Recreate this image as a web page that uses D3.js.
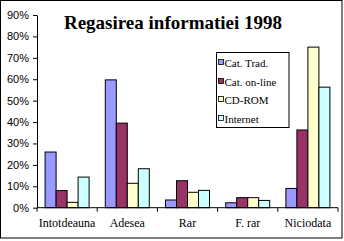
<!DOCTYPE html>
<html><head><meta charset="utf-8">
<script src="https://cdn.jsdelivr.net/npm/d3@7"></script>
<style>body{margin:0;background:#fff}svg{display:block}</style>
</head><body>
<script>
const categories = ["Intotdeauna", "Adesea", "Rar", "F. rar", "Niciodata"];
const seriesNames = ["Cat. Trad.", "Cat. on-line", "CD-ROM", "Internet"];
const catTrad = [26, 59.7, 3.6, 2.3, 9];
const catOnline = [8, 39.5, 12.6, 4.7, 36.3];
const cdRom = [2.5, 11.4, 7.2, 4.7, 75];
const internet = [14.3, 18.2, 8.1, 3.4, 56.3];
const yTicks = [0, 10, 20, 30, 40, 50, 60, 70, 80, 90];
const colors = ["#9999FF", "#993366", "#FFFFCC", "#CCFFFF"];
const title = "Regasirea informatiei 1998";

const SERIF = '"Liberation Serif", serif';
const SANS = '"Liberation Sans", sans-serif';
const seriesValues = [catTrad, catOnline, cdRom, internet];
const W = 344, H = 241;
const svg = d3.select("body").append("svg").attr("width", W).attr("height", H);

// chart frame
svg.append("rect").attr("x", 0.5).attr("y", 0.5).attr("width", 341.5).attr("height", 237.5)
  .attr("fill", "#fff").attr("stroke", "#000").attr("stroke-width", 1);

const x0 = d3.scaleBand().domain(categories).range([37, 338]).paddingInner(0).paddingOuter(0);
const x1 = d3.scaleBand().domain(seriesNames).range([0, x0.bandwidth()]).paddingInner(0).paddingOuter(0.736);
const y = d3.scaleLinear().domain([0, 90]).range([207.7, 15]);

// bars
categories.forEach((c, ci) => {
  seriesNames.forEach((s, si) => {
    const v = seriesValues[si][ci];
    svg.append("rect")
      .attr("x", x0(c) + x1(s))
      .attr("y", y(v))
      .attr("width", x1.bandwidth())
      .attr("height", y(0) - y(v))
      .attr("fill", colors[si])
      .attr("stroke", "#000").attr("stroke-width", 1);
  });
});

// y axis
const yAxis = d3.axisLeft(y).tickValues(yTicks).tickFormat(d => d + "%").tickSize(4).tickSizeOuter(0).tickPadding(4);
const gy = svg.append("g").attr("transform", "translate(37,0)").call(yAxis);
gy.selectAll("text").style("font-family", SANS).style("font-size", "11px").attr("fill", "#000");
gy.selectAll("line, path").attr("stroke", "#000");

// x axis
const xTickPos = categories.map(c => x0(c)).concat([x0.range()[1]]);
const gx = svg.append("g").attr("transform", `translate(0,${y(0)})`);
gx.append("line").attr("x1", 37).attr("x2", 338).attr("y1", 0).attr("y2", 0).attr("stroke", "#000");
gx.selectAll("line.t").data(xTickPos).enter().append("line").attr("class", "t")
  .attr("x1", d => d).attr("x2", d => d).attr("y1", 0).attr("y2", 4).attr("stroke", "#000");
gx.selectAll("text").data(categories).enter().append("text")
  .attr("x", d => x0(d) + x0.bandwidth() / 2).attr("y", 19)
  .attr("text-anchor", "middle")
  .style("font-family", SERIF).style("font-size", "12px")
  .text(d => d);

// title
svg.append("text").attr("x", 173).attr("y", 29).attr("text-anchor", "middle")
  .style("font-family", SERIF).style("font-weight", "bold").style("font-size", "19px").text(title);

// legend
const lg = svg.append("g");
lg.append("rect").attr("x", 216.5).attr("y", 52.5).attr("width", 72.5).attr("height", 75)
  .attr("fill", "#fff").attr("stroke", "#000");
const legY = [63, 82, 100, 119];
seriesNames.forEach((s, i) => {
  lg.append("rect").attr("x", 218.5).attr("y", legY[i] - 3.5).attr("width", 5).attr("height", 5)
    .attr("fill", colors[i]).attr("stroke", "#000").attr("stroke-width", 0.8);
  lg.append("text").attr("x", 224.5).attr("y", legY[i] + 3.5)
    .style("font-family", SERIF).style("font-size", "11px")
    .text(s);
});
</script>
</body></html>
